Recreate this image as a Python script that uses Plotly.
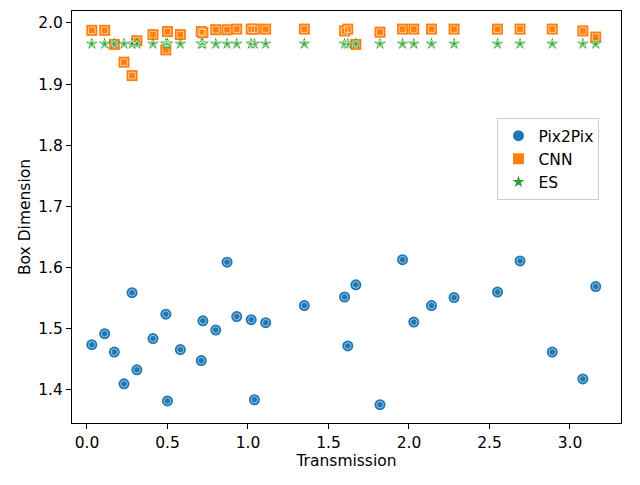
import plotly.graph_objects as go

transmission = [0.03, 0.11, 0.17, 0.23, 0.28, 0.31, 0.41, 0.49, 0.50, 0.58, 0.71, 0.72,
                0.80, 0.87, 0.93, 1.02, 1.04, 1.11, 1.35, 1.60, 1.62, 1.67, 1.82, 1.96,
                2.03, 2.14, 2.28, 2.55, 2.69, 2.89, 3.08, 3.16]

pix2pix = [1.474, 1.492, 1.462, 1.410, 1.559, 1.433, 1.484, 1.524, 1.382, 1.466, 1.448, 1.513,
           1.498, 1.609, 1.520, 1.515, 1.384, 1.510, 1.538, 1.552, 1.472, 1.572, 1.376, 1.613,
           1.511, 1.538, 1.551, 1.560, 1.611, 1.462, 1.418, 1.569]

cnn = [1.988, 1.988, 1.965, 1.936, 1.914, 1.971, 1.981, 1.956, 1.986, 1.981, 1.986, 1.984,
       1.989, 1.989, 1.990, 1.990, 1.990, 1.990, 1.990, 1.987, 1.990, 1.965, 1.985, 1.990,
       1.990, 1.990, 1.990, 1.990, 1.990, 1.990, 1.987, 1.977]

es = [1.966, 1.966, 1.966, 1.966, 1.966, 1.966, 1.966, 1.966, 1.966, 1.966, 1.966, 1.966,
      1.966, 1.966, 1.966, 1.966, 1.966, 1.966, 1.966, 1.966, 1.966, 1.966, 1.966, 1.966,
      1.966, 1.966, 1.966, 1.966, 1.966, 1.966, 1.966, 1.966]

series = [
    ("Pix2Pix", pix2pix, "#1f77b4", "circle", 11),
    ("CNN", cnn, "#ff7f0e", "square", 11),
    ("ES", es, "#2ca02c", "star", 9),
]

fig = go.Figure()
for name, vals, col, sym, sz in series:
    fig.add_trace(go.Scatter(
        x=transmission, y=vals, mode="markers", name=name, legendgroup=name,
        marker=dict(symbol=sym, size=sz, color=col, line=dict(width=0)),
    ))
    # lighter inner ring, like the reference markers
    fig.add_trace(go.Scatter(
        x=transmission, y=vals, mode="markers", name=name, legendgroup=name,
        showlegend=False, hoverinfo="skip",
        marker=dict(symbol=sym + "-open", size=sz * 0.6, color="rgba(255,255,255,0.55)",
                    line=dict(width=1, color="rgba(255,255,255,0.55)")),
    ))

fnt = dict(family="DejaVu Sans", size=15.5, color="black")
axis_style = dict(
    showline=True, linecolor="black", linewidth=1, mirror=True,
    ticks="outside", ticklen=5, tickcolor="black", showgrid=False, zeroline=False,
    tickfont=fnt,
)

fig.update_xaxes(range=[-0.093, 3.317], tickvals=[0, 0.5, 1, 1.5, 2, 2.5, 3],
                 ticktext=["0.0", "0.5", "1.0", "1.5", "2.0", "2.5", "3.0"],
                 title=dict(text="Transmission", font=fnt, standoff=0),
                 **axis_style)
fig.update_yaxes(range=[1.346, 2.0196], tickvals=[1.4, 1.5, 1.6, 1.7, 1.8, 1.9, 2.0],
                 ticktext=["1.4", "1.5", "1.6", "1.7", "1.8", "1.9", "2.0"],
                 title=dict(text="Box Dimension", font=fnt, standoff=3),
                 **axis_style)

fig.update_layout(
    width=640, height=485,
    margin=dict(l=64, r=27, t=3, b=70),
    plot_bgcolor="white", paper_bgcolor="white",
    showlegend=True,
    legend=dict(x=0.775, y=0.74, xanchor="left", yanchor="top",
                bgcolor="white", bordercolor="#cccccc", borderwidth=1,
                tracegroupgap=0,
                font=fnt),
)

fig.write_html("out.html")
